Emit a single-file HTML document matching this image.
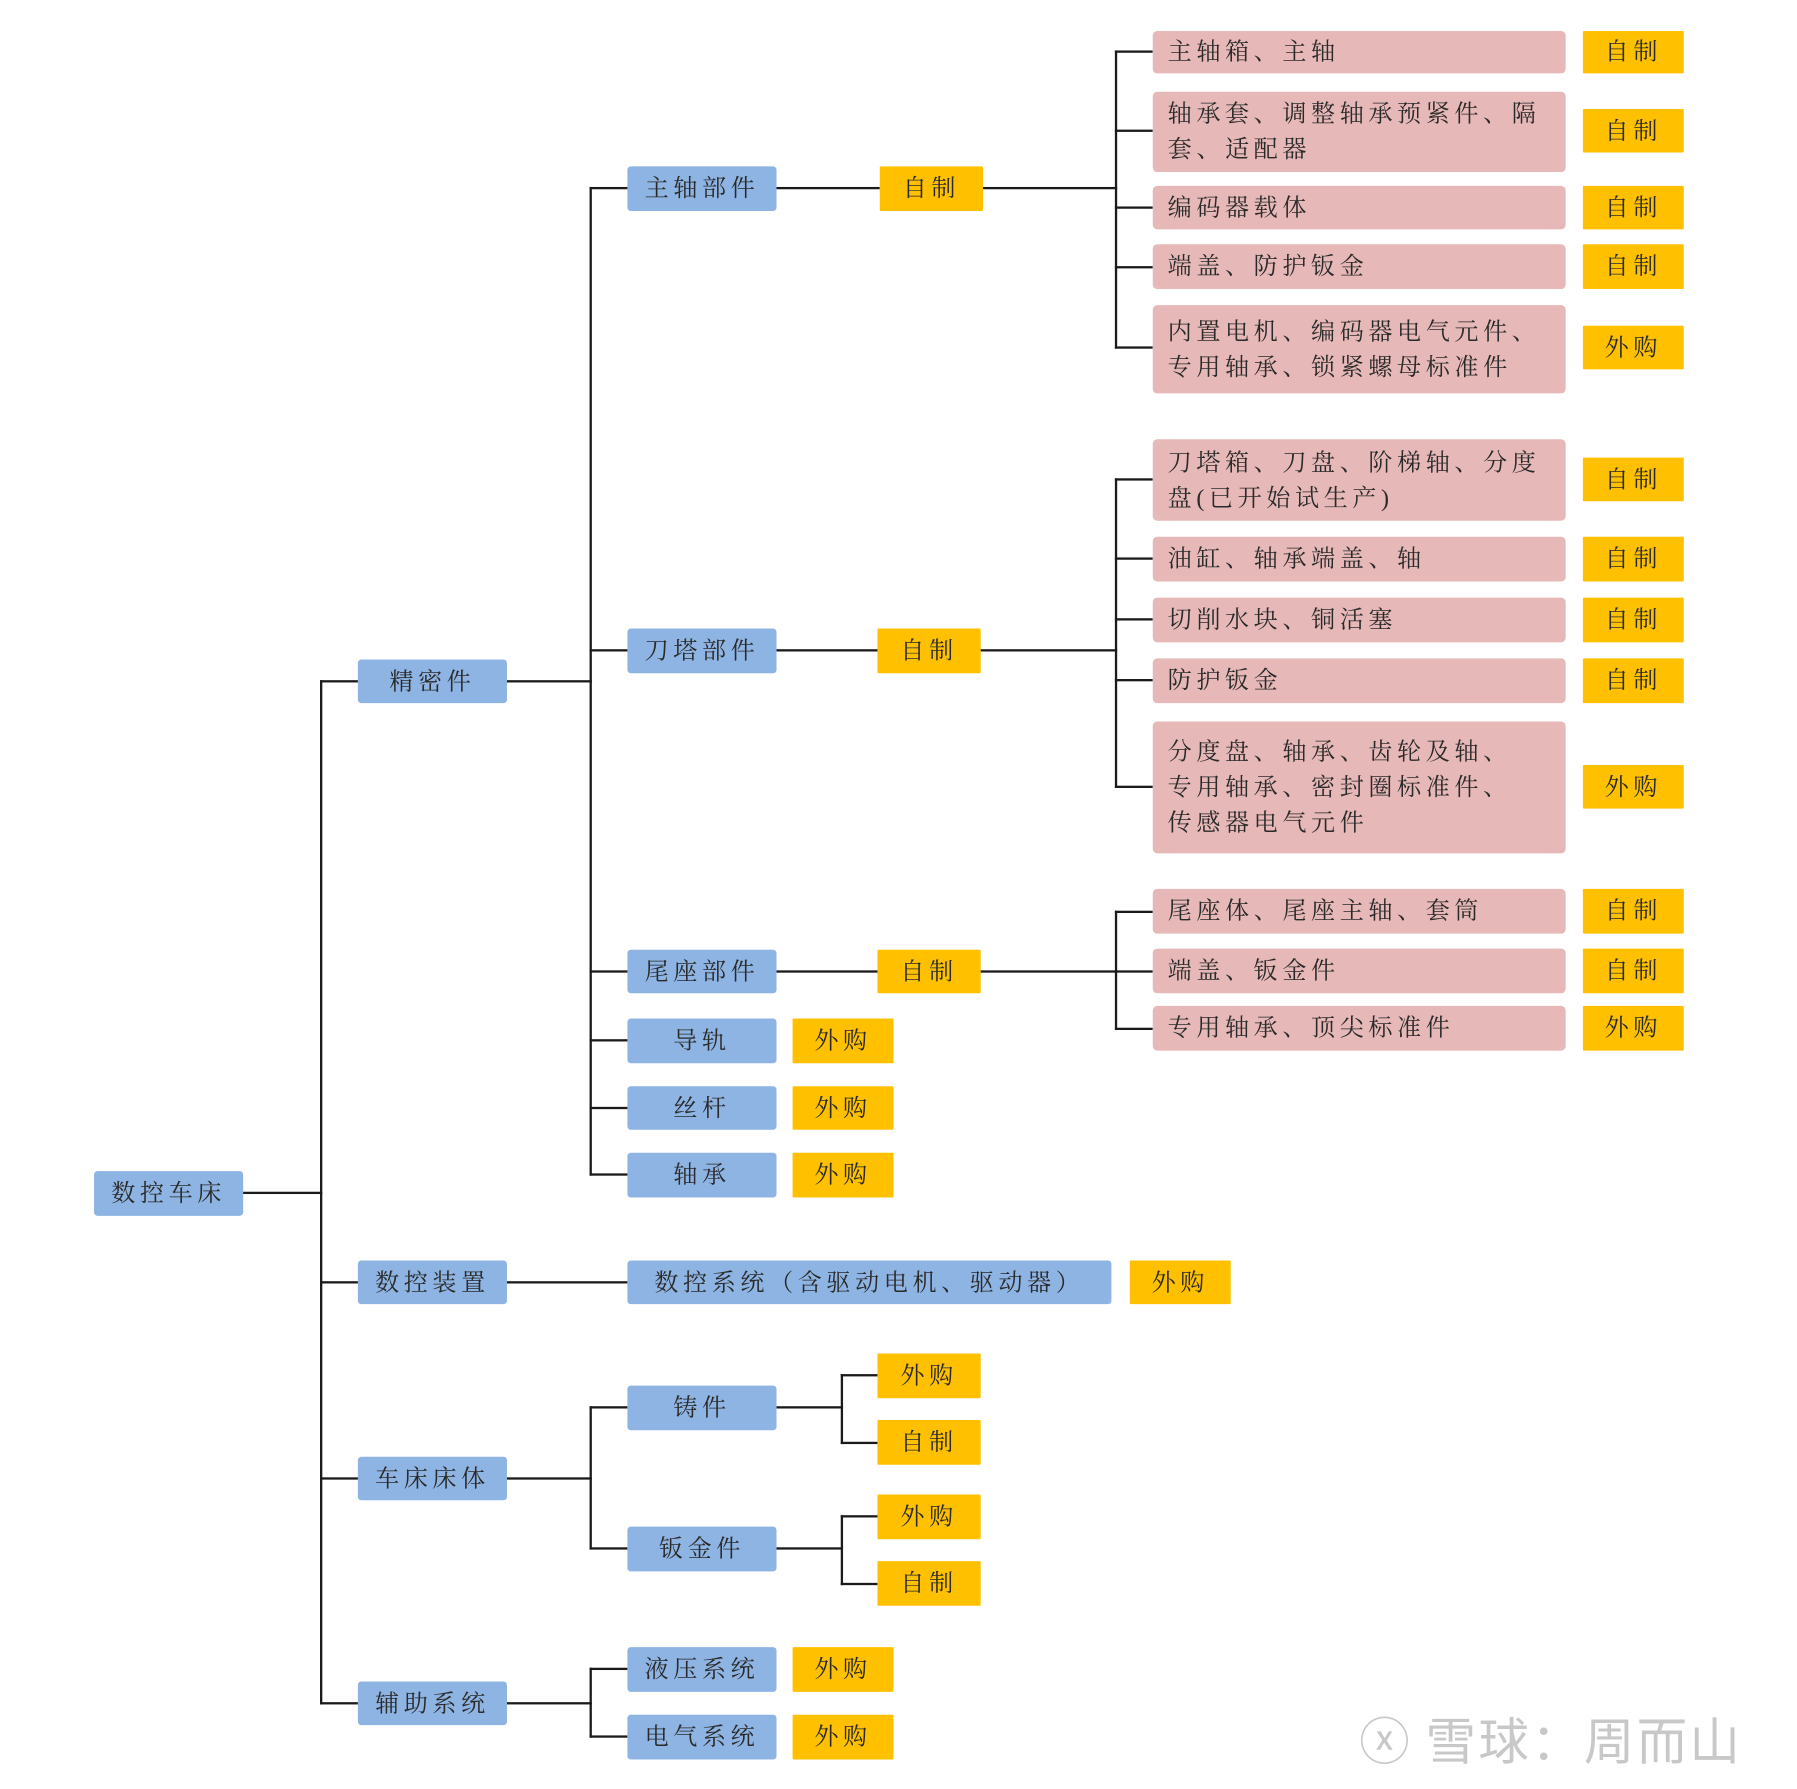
<!DOCTYPE html>
<html><head><meta charset="utf-8"><style>
html,body{margin:0;padding:0;background:#fff;}
#wrap{position:relative;width:1564px;height:1557px;transform:scale(1.147);transform-origin:0 0;overflow:hidden;}
.b{position:absolute;box-sizing:border-box;font-family:"Liberation Serif","Noto Serif CJK SC",serif;font-size:21px;color:#2a2a2a;letter-spacing:4px;display:flex;align-items:center;justify-content:center;border-radius:3px;line-height:31px;}
.bl{background:#8eb4e3;}
.y{background:#ffc000;border-radius:1px;}
.p{background:#e6b8b7;justify-content:flex-start;padding-left:13px;border-radius:4px;white-space:nowrap;}
.h{position:absolute;height:2px;background:#1a1a1a;}
.v{position:absolute;width:2px;background:#1a1a1a;}
.wm{position:absolute;left:1185px;top:1483px;font-family:"Noto Sans CJK SC",sans-serif;font-size:44px;color:#c8c8c8;letter-spacing:2px;}
</style></head><body><div id="wrap">
<div class="b bl" style="left:82px;top:1021px;width:130px;height:39px">数控车床</div>
<div class="h" style="left:212px;top:1039px;width:69px"></div>
<div class="v" style="left:279px;top:593px;height:893px"></div>
<div class="b bl" style="left:312px;top:575px;width:130px;height:38px">精密件</div>
<div class="b bl" style="left:312px;top:1099px;width:130px;height:38px">数控装置</div>
<div class="b bl" style="left:312px;top:1270px;width:130px;height:38px">车床床体</div>
<div class="b bl" style="left:312px;top:1466px;width:130px;height:38px">辅助系统</div>
<div class="h" style="left:279px;top:593px;width:33px"></div>
<div class="h" style="left:279px;top:1117px;width:33px"></div>
<div class="h" style="left:279px;top:1288px;width:33px"></div>
<div class="h" style="left:279px;top:1484px;width:33px"></div>
<div class="h" style="left:442px;top:593px;width:74px"></div>
<div class="v" style="left:514px;top:163px;height:862px"></div>
<div class="b bl" style="left:547px;top:145px;width:130px;height:39px">主轴部件</div>
<div class="b bl" style="left:547px;top:548px;width:130px;height:39px">刀塔部件</div>
<div class="b bl" style="left:547px;top:828px;width:130px;height:38px">尾座部件</div>
<div class="b bl" style="left:547px;top:888px;width:130px;height:39px">导轨</div>
<div class="b bl" style="left:547px;top:947px;width:130px;height:38px">丝杆</div>
<div class="b bl" style="left:547px;top:1005px;width:130px;height:39px">轴承</div>
<div class="h" style="left:514px;top:163px;width:33px"></div>
<div class="h" style="left:514px;top:566px;width:33px"></div>
<div class="h" style="left:514px;top:846px;width:33px"></div>
<div class="h" style="left:514px;top:906px;width:33px"></div>
<div class="h" style="left:514px;top:965px;width:33px"></div>
<div class="h" style="left:514px;top:1023px;width:33px"></div>
<div class="b y" style="left:691px;top:888px;width:88px;height:39px">外购</div>
<div class="b y" style="left:691px;top:947px;width:88px;height:38px">外购</div>
<div class="b y" style="left:691px;top:1005px;width:88px;height:39px">外购</div>
<div class="h" style="left:677px;top:163px;width:90px"></div>
<div class="h" style="left:677px;top:566px;width:88px"></div>
<div class="h" style="left:677px;top:846px;width:88px"></div>
<div class="b y" style="left:767px;top:145px;width:90px;height:39px">自制</div>
<div class="b y" style="left:765px;top:548px;width:90px;height:39px">自制</div>
<div class="b y" style="left:765px;top:828px;width:90px;height:38px">自制</div>
<div class="h" style="left:857px;top:163px;width:117px"></div>
<div class="h" style="left:855px;top:566px;width:119px"></div>
<div class="h" style="left:855px;top:846px;width:119px"></div>
<div class="v" style="left:972px;top:44px;height:260px"></div>
<div class="h" style="left:972px;top:44px;width:33px"></div>
<div class="h" style="left:972px;top:113px;width:33px"></div>
<div class="h" style="left:972px;top:180px;width:33px"></div>
<div class="h" style="left:972px;top:232px;width:33px"></div>
<div class="h" style="left:972px;top:302px;width:33px"></div>
<div class="b p" style="left:1005px;top:27px;width:360px;height:37px">主轴箱、主轴</div>
<div class="b p" style="left:1005px;top:80px;width:360px;height:70px">轴承套、调整轴承预紧件、隔<br>套、适配器</div>
<div class="b p" style="left:1005px;top:162px;width:360px;height:38px">编码器载体</div>
<div class="b p" style="left:1005px;top:213px;width:360px;height:39px">端盖、防护钣金</div>
<div class="b p" style="left:1005px;top:266px;width:360px;height:77px">内置电机、编码器电气元件、<br>专用轴承、锁紧螺母标准件</div>
<div class="b y" style="left:1380px;top:27px;width:88px;height:37px">自制</div>
<div class="b y" style="left:1380px;top:95px;width:88px;height:38px">自制</div>
<div class="b y" style="left:1380px;top:162px;width:88px;height:38px">自制</div>
<div class="b y" style="left:1380px;top:213px;width:88px;height:39px">自制</div>
<div class="b y" style="left:1380px;top:284px;width:88px;height:38px">外购</div>
<div class="v" style="left:972px;top:417px;height:270px"></div>
<div class="h" style="left:972px;top:417px;width:33px"></div>
<div class="h" style="left:972px;top:486px;width:33px"></div>
<div class="h" style="left:972px;top:539px;width:33px"></div>
<div class="h" style="left:972px;top:592px;width:33px"></div>
<div class="h" style="left:972px;top:685px;width:33px"></div>
<div class="b p" style="left:1005px;top:383px;width:360px;height:71px">刀塔箱、刀盘、阶梯轴、分度<br>盘(已开始试生产)</div>
<div class="b p" style="left:1005px;top:468px;width:360px;height:39px">油缸、轴承端盖、轴</div>
<div class="b p" style="left:1005px;top:521px;width:360px;height:39px">切削水块、铜活塞</div>
<div class="b p" style="left:1005px;top:574px;width:360px;height:39px">防护钣金</div>
<div class="b p" style="left:1005px;top:629px;width:360px;height:115px">分度盘、轴承、齿轮及轴、<br>专用轴承、密封圈标准件、<br>传感器电气元件</div>
<div class="b y" style="left:1380px;top:399px;width:88px;height:38px">自制</div>
<div class="b y" style="left:1380px;top:468px;width:88px;height:39px">自制</div>
<div class="b y" style="left:1380px;top:521px;width:88px;height:39px">自制</div>
<div class="b y" style="left:1380px;top:574px;width:88px;height:39px">自制</div>
<div class="b y" style="left:1380px;top:667px;width:88px;height:38px">外购</div>
<div class="v" style="left:972px;top:794px;height:104px"></div>
<div class="h" style="left:972px;top:794px;width:33px"></div>
<div class="h" style="left:972px;top:896px;width:33px"></div>
<div class="h" style="left:972px;top:846px;width:33px"></div>
<div class="b p" style="left:1005px;top:775px;width:360px;height:39px">尾座体、尾座主轴、套筒</div>
<div class="b p" style="left:1005px;top:827px;width:360px;height:39px">端盖、钣金件</div>
<div class="b p" style="left:1005px;top:877px;width:360px;height:39px">专用轴承、顶尖标准件</div>
<div class="b y" style="left:1380px;top:775px;width:88px;height:39px">自制</div>
<div class="b y" style="left:1380px;top:827px;width:88px;height:39px">自制</div>
<div class="b y" style="left:1380px;top:877px;width:88px;height:39px">外购</div>
<div class="h" style="left:442px;top:1117px;width:105px"></div>
<div class="b bl" style="left:547px;top:1099px;width:422px;height:38px">数控系统（含驱动电机、驱动器）</div>
<div class="b y" style="left:985px;top:1099px;width:88px;height:38px">外购</div>
<div class="h" style="left:442px;top:1288px;width:74px"></div>
<div class="v" style="left:514px;top:1226px;height:125px"></div>
<div class="h" style="left:514px;top:1226px;width:33px"></div>
<div class="h" style="left:514px;top:1349px;width:33px"></div>
<div class="b bl" style="left:547px;top:1208px;width:130px;height:39px">铸件</div>
<div class="b bl" style="left:547px;top:1331px;width:130px;height:39px">钣金件</div>
<div class="h" style="left:677px;top:1226px;width:58px"></div>
<div class="h" style="left:677px;top:1349px;width:58px"></div>
<div class="v" style="left:733px;top:1198px;height:61px"></div>
<div class="v" style="left:733px;top:1321px;height:61px"></div>
<div class="h" style="left:733px;top:1198px;width:32px"></div>
<div class="h" style="left:733px;top:1257px;width:32px"></div>
<div class="h" style="left:733px;top:1321px;width:32px"></div>
<div class="h" style="left:733px;top:1380px;width:32px"></div>
<div class="b y" style="left:765px;top:1180px;width:90px;height:39px">外购</div>
<div class="b y" style="left:765px;top:1238px;width:90px;height:39px">自制</div>
<div class="b y" style="left:765px;top:1303px;width:90px;height:39px">外购</div>
<div class="b y" style="left:765px;top:1361px;width:90px;height:39px">自制</div>
<div class="h" style="left:442px;top:1484px;width:74px"></div>
<div class="v" style="left:514px;top:1454px;height:61px"></div>
<div class="h" style="left:514px;top:1454px;width:33px"></div>
<div class="h" style="left:514px;top:1513px;width:33px"></div>
<div class="b bl" style="left:547px;top:1436px;width:130px;height:39px">液压系统</div>
<div class="b bl" style="left:547px;top:1495px;width:130px;height:39px">电气系统</div>
<div class="b y" style="left:691px;top:1436px;width:88px;height:39px">外购</div>
<div class="b y" style="left:691px;top:1495px;width:88px;height:39px">外购</div>
<div class="wm">ⓧ 雪球：周而山</div>
</div></body></html>
